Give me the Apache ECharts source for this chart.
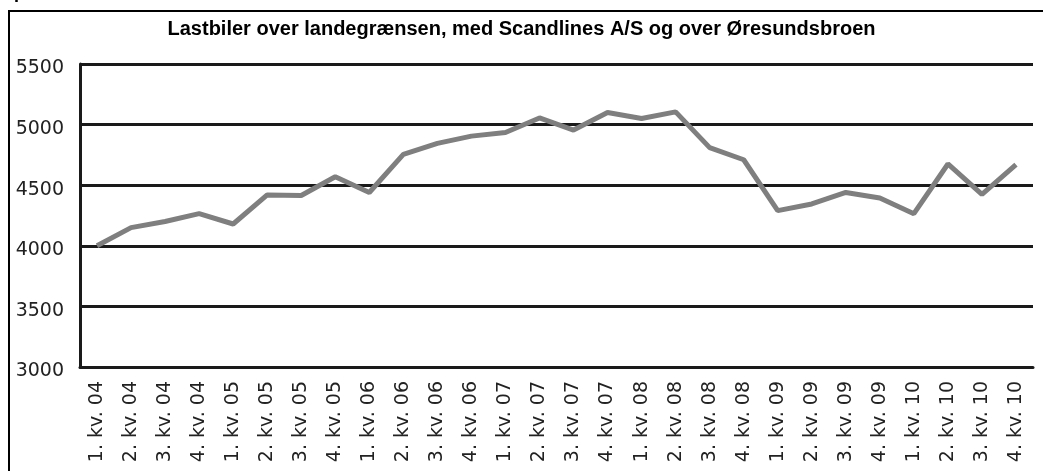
<!DOCTYPE html>
<html>
<head>
<meta charset="utf-8">
<script src="https://cdn.jsdelivr.net/npm/echarts@6/dist/echarts.min.js"></script>
<style>
    * { margin: 0; padding: 0; }
    body { background: #fff; }
    #chart { width: 1043px; height: 471px; }
</style>
</head>
<body>
<div id="chart"></div>
<script>
// kvartaler
const categories = [
    '1. kv. 04', '2. kv. 04', '3. kv. 04', '4. kv. 04',
    '1. kv. 05', '2. kv. 05', '3. kv. 05', '4. kv. 05',
    '1. kv. 06', '2. kv. 06', '3. kv. 06', '4. kv. 06',
    '1. kv. 07', '2. kv. 07', '3. kv. 07', '4. kv. 07',
    '1. kv. 08', '2. kv. 08', '3. kv. 08', '4. kv. 08',
    '1. kv. 09', '2. kv. 09', '3. kv. 09', '4. kv. 09',
    '1. kv. 10', '2. kv. 10', '3. kv. 10', '4. kv. 10'
];
// lastbiler
const lastbiler = [
    4000, 4150, 4200, 4265,
    4180, 4420, 4415, 4570,
    4440, 4755, 4845, 4905,
    4935, 5055, 4955, 5100,
    5050, 5105, 4810, 4710,
    4290, 4345, 4440, 4395,
    4265, 4675, 4425, 4670
];
const yMin = 3000;
const yMax = 5500;
const yStep = 500;

const chart = echarts.init(document.getElementById('chart'));
const option = {
    animation: false,
    title: {
        text: 'Lastbiler over landegrænsen, med Scandlines A/S og over Øresundsbroen',
        left: 'center',
        top: 14,
        textStyle: {
            fontFamily: 'Liberation Sans',
            fontWeight: 'bold',
            fontSize: 20,
            color: '#000'
        }
    },
    graphic: [
        {
            type: 'rect',
            shape: { x: 9, y: 11, width: 1060, height: 500 },
            style: { fill: 'none', stroke: '#000', lineWidth: 2 }
        },
        {
            type: 'text',
            left: 14,
            top: -12,
            style: { text: '.', font: 'bold 18px Liberation Sans', fill: '#000' }
        }
    ],
    grid: {
        left: 80,
        right: 10,
        top: 64,
        bottom: 104
    },
    xAxis: {
        type: 'category',
        data: categories,
        boundaryGap: true,
        axisLine: { lineStyle: { color: '#1a1a1a', width: 3 } },
        axisTick: { inside: true, length: 7, lineStyle: { color: '#1a1a1a', width: 3 } },
        axisLabel: {
            rotate: 90,
            interval: 0,
            margin: 14,
            fontFamily: 'DejaVu Sans',
            fontSize: 19,
            color: '#222'
        }
    },
    yAxis: {
        type: 'value',
        min: yMin,
        max: yMax,
        interval: yStep,
        axisLine: { show: true, lineStyle: { color: '#1a1a1a', width: 3 } },
        axisTick: { show: false },
        splitLine: { lineStyle: { color: '#1a1a1a', width: 3 } },
        axisLabel: {
            margin: 16,
            fontFamily: 'DejaVu Sans',
            fontSize: 19,
            color: '#222',
            formatter: function (v) { return '{n|' + v + '}'; },
            rich: {
                n: {
                    fontFamily: 'DejaVu Sans',
                    fontSize: 19,
                    color: '#222',
                    padding: [9, 0, 0, 0]
                }
            }
        }
    },
    series: [
        {
            name: 'Lastbiler',
            type: 'line',
            data: lastbiler,
            showSymbol: false,
            lineStyle: { color: '#7f7f7f', width: 5 },
            z: 3
        }
    ]
};
chart.setOption(option);
</script>
</body>
</html>
